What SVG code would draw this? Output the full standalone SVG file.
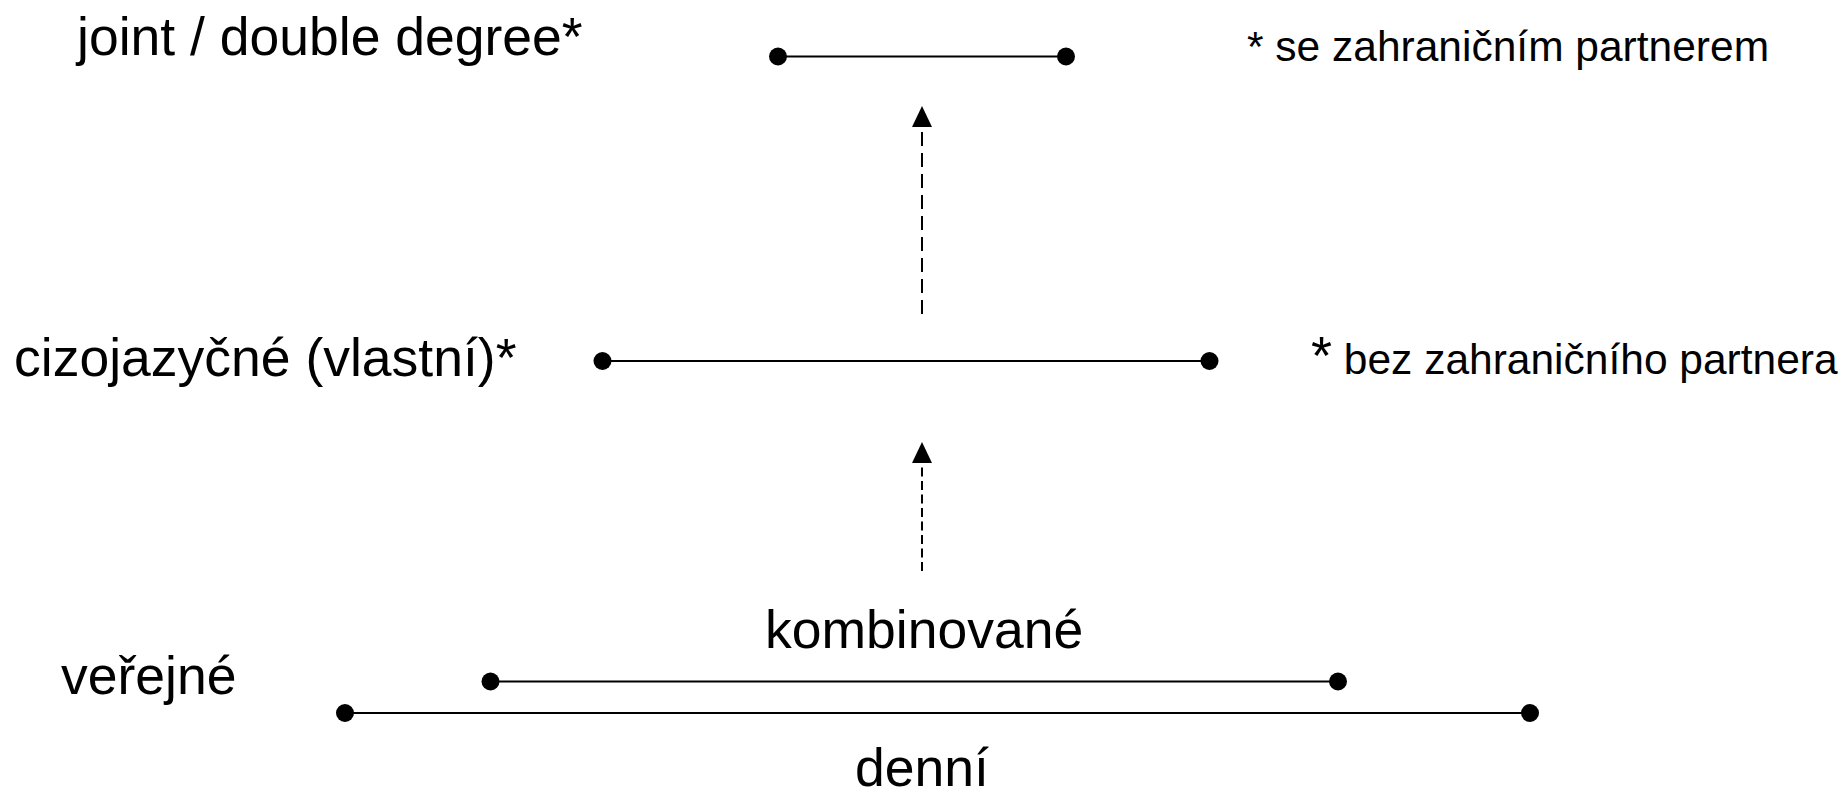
<svg xmlns="http://www.w3.org/2000/svg" width="1845" height="793" viewBox="0 0 1845 793">
<style>
text{font-family:"Liberation Sans",Arial,sans-serif;fill:#000}
.big{font-size:53.5px}
.small{font-size:42.5px}
.bar{stroke:#000;stroke-width:2.2;fill:none}
.dot{fill:#000}
.arr{stroke:#000;stroke-width:2;fill:none}
</style>
<defs>
<marker id="ah" markerWidth="21" markerHeight="20" refX="0" refY="10" orient="auto" markerUnits="userSpaceOnUse" viewBox="0 0 21 20">
<path d="M0,0 L21,10 L0,20 Z" fill="#000"/>
</marker>
</defs>
<rect width="1845" height="793" fill="#fff"/>
<g id="joint">
<text class="big" x="77" y="55">joint / double degree*</text>
<line class="bar" x1="778" y1="56.5" x2="1066" y2="56.5"/>
<circle class="dot" cx="778" cy="56.5" r="9"/>
<circle class="dot" cx="1066" cy="56.5" r="9"/>
</g>
<g id="note1">
<text class="small" x="1247" y="61">* se zahraničním partnerem</text>
</g>
<g id="cizojazycne">
<text class="big" x="14" y="376">cizojazyčné (vlastní)*</text>
<line class="bar" x1="602.5" y1="361" x2="1209.5" y2="361"/>
<circle class="dot" cx="602.5" cy="361" r="9"/>
<circle class="dot" cx="1209.5" cy="361" r="9"/>
</g>
<g id="note2">
<text class="small" x="1311" y="374"><tspan font-size="54">*</tspan> bez zahraničního partnera</text>
</g>
<g id="verejne">
<text class="big" x="61" y="694">veřejné</text>
</g>
<g id="kombinovane">
<text class="big" x="765" y="648">kombinované</text>
<line class="bar" x1="490.5" y1="681.5" x2="1338" y2="681.5"/>
<circle class="dot" cx="490.5" cy="681.5" r="9"/>
<circle class="dot" cx="1338" cy="681.5" r="9"/>
</g>
<g id="denni">
<line class="bar" x1="345" y1="713" x2="1530" y2="713"/>
<circle class="dot" cx="345" cy="713" r="9"/>
<circle class="dot" cx="1530" cy="713" r="9"/>
<text class="big" x="855" y="786">denní</text>
</g>
<g id="connectors">
<line class="arr" x1="922" y1="314" x2="922" y2="127" stroke-dasharray="14 7" marker-end="url(#ah)"/>
<line class="arr" x1="922" y1="571" x2="922" y2="463" stroke-dasharray="9 4.5" marker-end="url(#ah)"/>
</g>
</svg>
